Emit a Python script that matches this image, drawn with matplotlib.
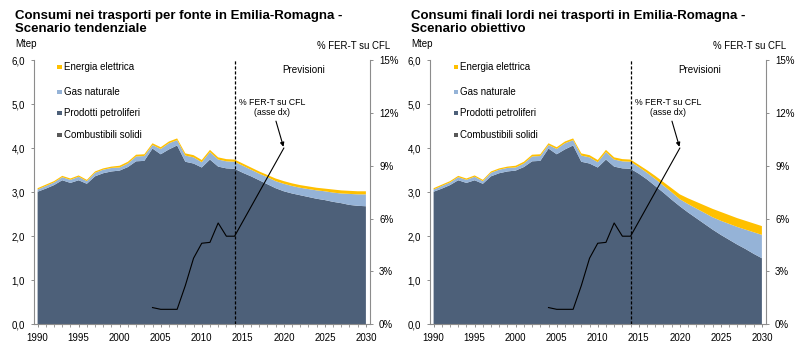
import matplotlib
matplotlib.use('Agg')
import matplotlib.pyplot as plt
from matplotlib.patches import Rectangle
from matplotlib.ticker import FuncFormatter, MultipleLocator

plt.rcParams['font.family'] = ['Liberation Sans', 'DejaVu Sans']

# ---------------- data ----------------
years = list(range(1990, 2031))

# historical 1990-2014 (Mtep), common to both scenarios
petrol_hist = [3.01, 3.08, 3.16, 3.27, 3.21, 3.27, 3.19, 3.36, 3.43, 3.47, 3.49, 3.57, 3.70,
               3.71, 3.99, 3.86, 3.97, 4.06, 3.69, 3.65, 3.56, 3.74, 3.58, 3.54, 3.53]
gas_hist = [0.05, 0.06, 0.06, 0.07, 0.07, 0.08, 0.06, 0.08, 0.08, 0.08, 0.07, 0.08, 0.11,
            0.11, 0.08, 0.12, 0.14, 0.12, 0.14, 0.14, 0.12, 0.17, 0.16, 0.16, 0.16]
elec_hist = [0.03, 0.03, 0.03, 0.03, 0.03, 0.03, 0.03, 0.03, 0.03, 0.03, 0.04, 0.04, 0.04,
             0.04, 0.04, 0.04, 0.04, 0.04, 0.05, 0.05, 0.05, 0.05, 0.05, 0.05, 0.05]

# projections 2015-2030 - scenario tendenziale
petrol_tend = [3.44, 3.36, 3.27, 3.18, 3.09, 3.02, 2.97, 2.93, 2.89, 2.85, 2.82, 2.78, 2.75, 2.71, 2.69, 2.68]
gas_tend = [0.16, 0.15, 0.15, 0.16, 0.16, 0.17, 0.17, 0.17, 0.18, 0.19, 0.20, 0.21, 0.22, 0.25, 0.26, 0.27]
elec_tend = [0.05, 0.05, 0.05, 0.05, 0.06, 0.06, 0.06, 0.06, 0.06, 0.06, 0.06, 0.07, 0.07, 0.07, 0.07, 0.07]

# projections 2015-2030 - scenario obiettivo
petrol_ob = [3.42, 3.29, 3.14, 2.99, 2.83, 2.68, 2.54, 2.41, 2.28, 2.15, 2.03, 1.92, 1.81, 1.71, 1.60, 1.50]
gas_ob = [0.15, 0.15, 0.16, 0.16, 0.17, 0.16, 0.19, 0.22, 0.25, 0.28, 0.32, 0.36, 0.40, 0.44, 0.49, 0.53]
elec_ob = [0.05, 0.06, 0.07, 0.08, 0.09, 0.11, 0.13, 0.15, 0.17, 0.19, 0.20, 0.20, 0.20, 0.20, 0.20, 0.20]

solid = [0.0, 0.0, 0.0, 0.0, 0.0, 0.0, 0.0, 0.0, 0.0, 0.0, 0.0, 0.0, 0.0, 0.0, 0.0, 0.0, 0.0,
         0.0, 0.0, 0.0, 0.0, 0.0, 0.0, 0.0, 0.0, 0.0, 0.0, 0.0, 0.0, 0.0, 0.0, 0.0, 0.0, 0.0,
         0.0, 0.0, 0.0, 0.0, 0.0, 0.0, 0.0]

# % FER-T su CFL (right axis)
fer_years = [2004, 2005, 2006, 2007, 2008, 2009, 2010, 2011, 2012, 2013, 2014, 2020]
fer_vals = [0.95, 0.85, 0.85, 0.85, 2.2, 3.75, 4.6, 4.65, 5.75, 5.0, 5.0, 10.0]

series_labels = ['Energia elettrica', 'Gas naturale', 'Prodotti petroliferi', 'Combustibili solidi']
titles = [['Consumi nei trasporti per fonte in Emilia-Romagna -', 'Scenario tendenziale'],
          ['Consumi finali lordi nei trasporti in Emilia-Romagna -', 'Scenario obiettivo']]

C_PET = '#4D6079'
C_GAS = '#95B3D7'
C_ELE = '#FFC000'
C_SOL = '#595959'
SPINE = '#8C8C8C'

W, H = 800, 351
fig = plt.figure(figsize=(W / 100, H / 100), dpi=100)


def fx(x):
    return x / W


def fy(y):
    return 1 - y / H


panels = [
    (petrol_hist + petrol_tend, gas_hist + gas_tend, elec_hist + elec_tend, 0),
    (petrol_hist + petrol_ob, gas_hist + gas_ob, elec_hist + elec_ob, 396),
]

for i, (pet, gas, ele, off) in enumerate(panels):
    ax_l, ax_r = 33.5 + off, 370 + off
    ax_t, ax_b = 60, 324.3
    ax = fig.add_axes([fx(ax_l), fy(ax_b), (ax_r - ax_l) / W, (ax_b - ax_t) / H])
    ax.stackplot(years, solid, pet, gas, ele, colors=[C_SOL, C_PET, C_GAS, C_ELE], lw=0)
    ax.set_xlim(1989.5, 2030.5)
    ax.set_ylim(0, 6)
    ax.xaxis.set_major_locator(MultipleLocator(5))
    ax.xaxis.set_minor_locator(MultipleLocator(1))
    ax.yaxis.set_major_locator(MultipleLocator(1))
    ax.yaxis.set_major_formatter(FuncFormatter(lambda v, p: f'{v:.1f}'.replace('.', ',')))
    ax.tick_params(axis='both', which='major', direction='out', length=2.5, width=0.7,
                   color=SPINE, labelsize=7, pad=3.5)
    ax.tick_params(axis='x', which='minor', direction='out', length=2, width=0.6, color=SPINE)
    for s in ['top', 'right']:
        ax.spines[s].set_visible(False)
    for s in ['left', 'bottom']:
        ax.spines[s].set_color(SPINE)
        ax.spines[s].set_linewidth(0.8)

    ax.axvline(2014, color='black', lw=0.9, ls=(0, (2.5, 1.5)), zorder=3)

    ax2 = ax.twinx()
    ax2.set_ylim(0, 15)
    ax2.yaxis.set_major_locator(MultipleLocator(3))
    ax2.yaxis.set_major_formatter(FuncFormatter(lambda v, p: f'{v:.0f}%'))
    ax2.tick_params(axis='y', direction='out', length=2.5, width=0.7, color=SPINE,
                    labelsize=7, pad=4)
    for s in ['top', 'left', 'bottom']:
        ax2.spines[s].set_visible(False)
    ax2.spines['right'].set_color(SPINE)
    ax2.spines['right'].set_linewidth(0.8)
    ax2.plot(fer_years, fer_vals, color='black', lw=0.8, zorder=4)

    # annotation with arrow
    ax2.annotate('% FER-T su CFL\n(asse dx)', xy=(2020, 10),
                 xytext=(fx(272 + off), fy(107.5)), textcoords='figure fraction',
                 ha='center', va='center', fontsize=6.3, linespacing=1.15,
                 arrowprops=dict(arrowstyle='-|>', color='black', lw=0.8,
                                 mutation_scale=6, shrinkA=1, shrinkB=1))

    fig.text(fx(304 + off), fy(70), 'Previsioni', ha='center', va='center', fontsize=7.1)

    # titles and axis captions
    fig.text(fx(15 + off), fy(18.7), titles[i][0], fontsize=9.5, fontweight='bold',
             ha='left', va='baseline')
    fig.text(fx(15 + off), fy(31.5), titles[i][1], fontsize=9.5, fontweight='bold',
             ha='left', va='baseline')
    fig.text(fx(15 + off), fy(44), 'Mtep', fontsize=7, ha='left', va='center')
    fig.text(fx(390 + off), fy(46), '% FER-T su CFL', fontsize=6.9, ha='right', va='center')

    # legend
    leg_y = [66.7, 91.7, 112.7, 135]
    leg_c = [C_ELE, C_GAS, C_PET, C_SOL]
    for lab, yy, cc in zip(series_labels, leg_y, leg_c):
        fig.patches.append(Rectangle((fx(57.5 + off), fy(yy + 2)), 4 / W, 4 / H,
                                     transform=fig.transFigure, facecolor=cc, edgecolor='none'))
        fig.text(fx(64 + off), fy(yy), lab, fontsize=7, ha='left', va='center')

fig.savefig('out.png', dpi=100)
